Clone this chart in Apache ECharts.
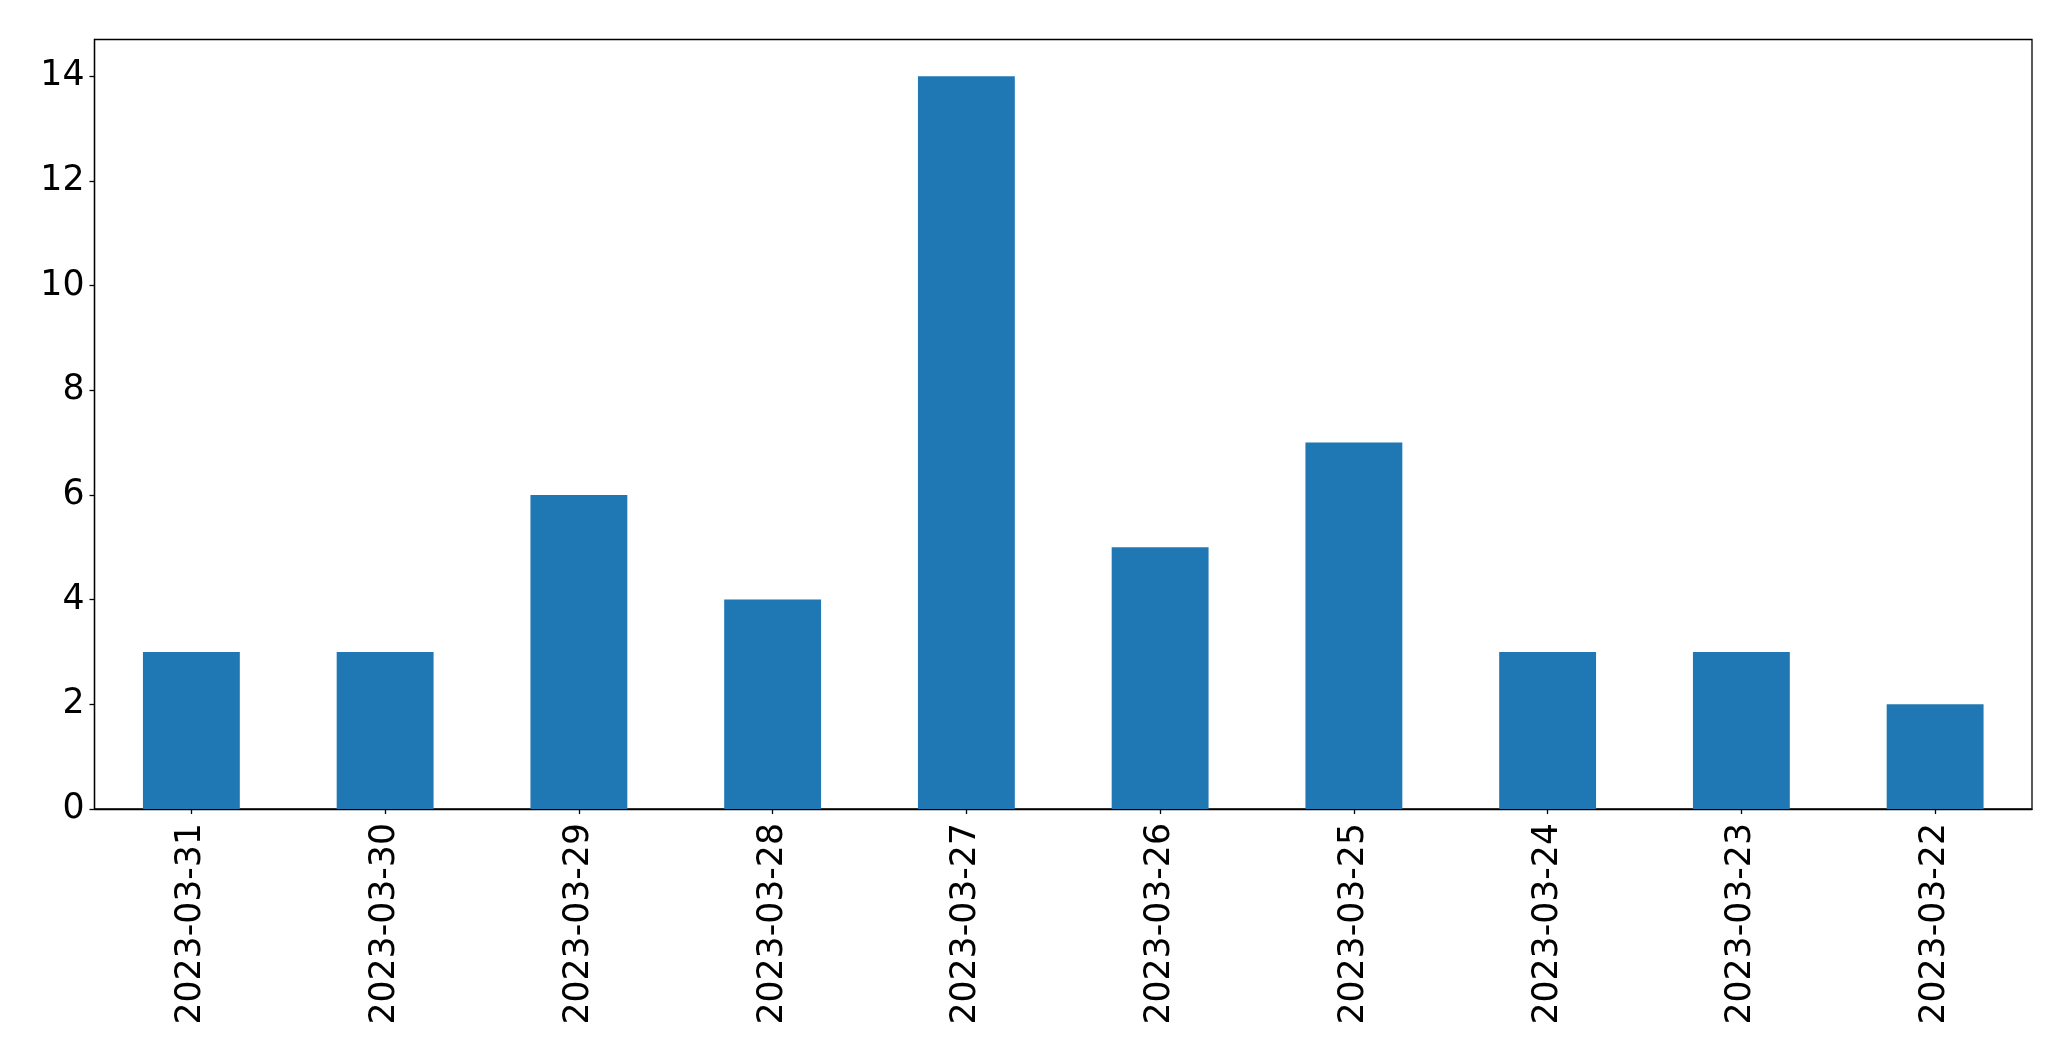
<!DOCTYPE html>
<html>
<head>
<meta charset="utf-8">
<script src="https://cdn.jsdelivr.net/npm/echarts@6/dist/echarts.min.js"></script>
<style>
html,body{margin:0;padding:0;background:#fff;}
#chart{width:2071px;height:1061px;}
</style>
</head>
<body>
<div id="chart"></div>
<script>
const categories = ['2023-03-31','2023-03-30','2023-03-29','2023-03-28','2023-03-27','2023-03-26','2023-03-25','2023-03-24','2023-03-23','2023-03-22'];
const values = [3, 3, 6, 4, 14, 5, 7, 3, 3, 2];
const yTicks = [0, 2, 4, 6, 8, 10, 12, 14];

const chart = echarts.init(document.getElementById('chart'), null, {renderer: 'canvas'});
chart.setOption({
  backgroundColor: '#fff',
  animation: false,
  grid: {
    left: 94.5, right: 39, top: 39.5, bottom: 252,
    show: true, borderColor: '#000', borderWidth: 1.3, containLabel: false
  },
  xAxis: {
    type: 'category',
    data: categories,
    boundaryGap: true,
    axisLine: {show: true, lineStyle: {color: '#000', width: 1.3}},
    axisTick: {show: true, alignWithLabel: true, length: 5, lineStyle: {color: '#000', width: 1.3}},
    axisLabel: {
      rotate: 90, interval: 0, margin: 14, color: '#000',
      fontFamily: 'DejaVu Sans', fontSize: 34.7
    },
    splitLine: {show: false}
  },
  yAxis: {
    type: 'value',
    min: 0, max: 14.7,
    axisLine: {show: true, lineStyle: {color: '#000', width: 1.3}},
    axisTick: {show: true, length: 5, customValues: yTicks, lineStyle: {color: '#000', width: 1.3}},
    axisLabel: {
      customValues: yTicks, margin: 10, color: '#000',
      fontFamily: 'DejaVu Sans', fontSize: 34.7
    },
    splitLine: {show: false}
  },
  series: [{
    type: 'bar',
    data: values,
    barWidth: '50%',
    itemStyle: {color: '#1f77b4'}
  }]
});
</script>
</body>
</html>
